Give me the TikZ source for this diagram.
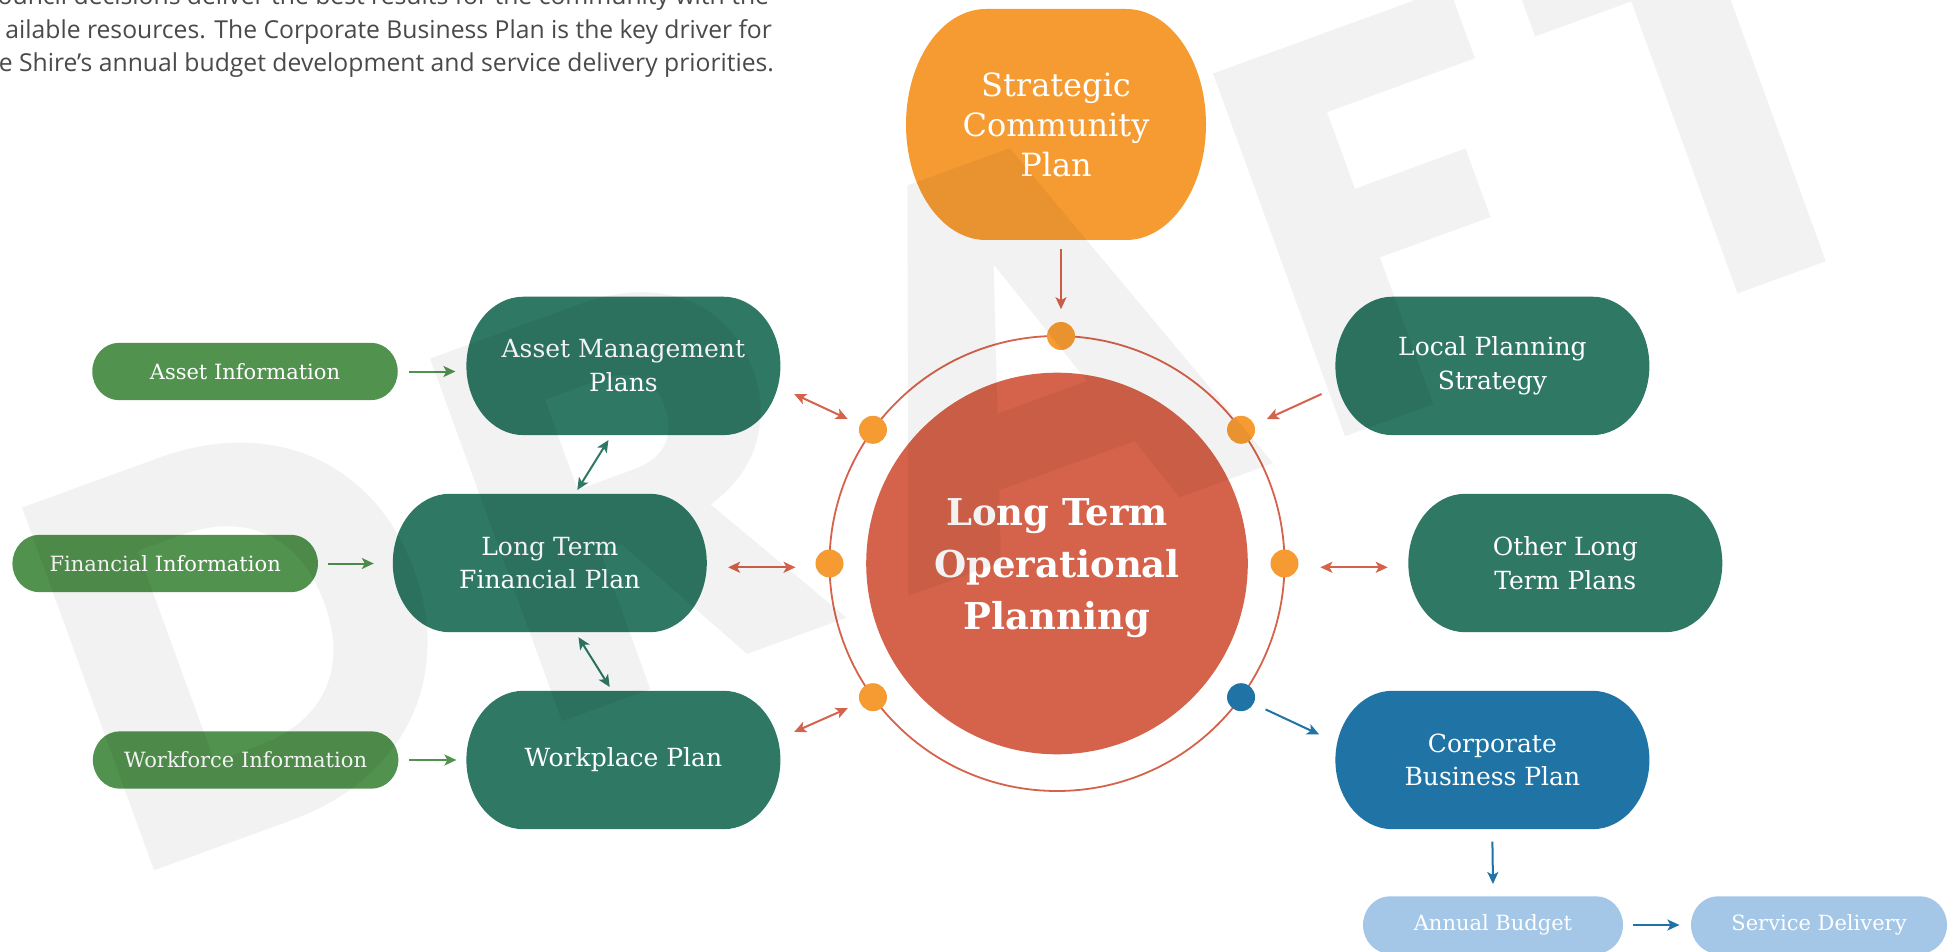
\documentclass[tikz,border=0pt]{standalone}
\usepackage{fontspec}
\setmainfont{DejaVu Serif}
\newfontfamily\parafont{Open Sans}
\newfontfamily\wmfont{Poppins}
\usetikzlibrary{arrows.meta,calc}

\definecolor{dkgreen}{HTML}{2E7864}
\definecolor{ltgreen}{HTML}{52924F}
\definecolor{cbblue}{HTML}{1F74A5}
\definecolor{paleblue}{HTML}{A4C6E7}
\definecolor{scporange}{HTML}{F59B32}
\definecolor{coral}{HTML}{D5624A}
\definecolor{paragrey}{HTML}{4A4A4A}

\pgfdeclarelayer{background}
\pgfsetlayers{background,main}

% Fill a box with elliptical ends behind a named node:
% #1 node, #2 corner x radius, #3 corner y radius, #4 colour
\newcommand\blobfill[4]{%
  \fill[#4] let \p1=(#1.north west), \p2=(#1.south east) in
    ({\x1+#2pt},\y1) -- ({\x2-#2pt},\y1)
    .. controls ({\x2-#2pt+0.5523*#2pt},\y1) and (\x2,{\y1-#3pt+0.5523*#3pt}) .. (\x2,{\y1-#3pt})
    -- (\x2,{\y2+#3pt})
    .. controls (\x2,{\y2+#3pt-0.5523*#3pt}) and ({\x2-#2pt+0.5523*#2pt},\y2) .. ({\x2-#2pt},\y2)
    -- ({\x1+#2pt},\y2)
    .. controls ({\x1+#2pt-0.5523*#2pt},\y2) and (\x1,{\y2+#3pt-0.5523*#3pt}) .. (\x1,{\y2+#3pt})
    -- (\x1,{\y1-#3pt})
    .. controls (\x1,{\y1-#3pt+0.5523*#3pt}) and ({\x1+#2pt-0.5523*#2pt},\y1) .. ({\x1+#2pt},\y1)
    -- cycle;}

\begin{document}
\begin{tikzpicture}[x=1pt,y=-1pt,
  >={Stealth[length=12pt,width=11pt,inset=3pt]},
  every node/.style={inner sep=0pt, outer sep=0pt},
  bigbox/.style={minimum width=314pt, minimum height=138.4pt, text=white, align=center,
    font=\fontsize{25}{33.7}\selectfont},
  infobox/.style={minimum width=305.5pt, minimum height=57.4pt, text=white, align=center,
    font=\fontsize{21}{26}\selectfont},
  para/.style={anchor=base east, text=paragrey, font=\parafont\fontsize{24.7}{33}\selectfont},
  ringdot/.style={circle, minimum size=28pt, fill=scporange},
  conn/.style={line width=2pt},
  garrow/.style={conn, draw=ltgreen, ->},
  tarrow/.style={conn, draw=dkgreen, <->},
  carrow/.style={conn, draw=coral, ->},
  cdarrow/.style={conn, draw=coral, <->},
  barrow/.style={conn, draw=cbblue, ->},
]
\useasboundingbox (0,0) rectangle (1955,952);
\begin{pgfonlayer}{background}
  \fill[white] (0,0) rectangle (1955,952);
\end{pgfonlayer}

% introductory paragraph (runs off the left edge)
\node[para] (p1) at (769,5)    {ouncil decisions deliver the best results for the community with the};
\node[para] (p2) at (772,38.3) {ailable resources. The Corporate Business Plan is the key driver for};
\node[para] (p3) at (774,71.7) {e Shire’s annual budget development and service delivery priorities.};

% strategic community plan
\node[minimum width=300pt, minimum height=231pt, text=white, align=center,
      font=\fontsize{32}{40}\selectfont] (scp) at (1056,124.5) {Strategic\\Community\\Plan};

% left hand plans
\node[bigbox] (amp)  at (623.4,365.9) {Asset Management\\Plans};
\node[bigbox] (ltfp) at (549.8,563)   {Long Term\\Financial Plan};
\node[bigbox] (wpp)  at (623.4,760)   {Workplace Plan};

% right hand plans
\node[bigbox] (lps)  at (1492.4,365.9) {Local Planning\\Strategy};
\node[bigbox] (oltp) at (1565.3,563)   {Other Long\\Term Plans};
\node[bigbox] (cbp)  at (1492.4,760)   {Corporate\\Business Plan};

% information inputs
\node[infobox] (ai) at (245,371.5)   {Asset Information};
\node[infobox] (fi) at (165.2,563.5) {Financial Information};
\node[infobox] (wi) at (245.6,760)   {Workforce Information};

% budget and delivery
\node[infobox, minimum width=260pt] (ab) at (1493,925) {Annual Budget};
\node[infobox, minimum width=256pt] (sd) at (1819,925) {Service Delivery};

\begin{pgfonlayer}{background}
  \blobfill{scp}{80}{115.5}{scporange}
  \blobfill{amp}{57}{69.2}{dkgreen}
  \blobfill{ltfp}{57}{69.2}{dkgreen}
  \blobfill{wpp}{57}{69.2}{dkgreen}
  \blobfill{lps}{57}{69.2}{dkgreen}
  \blobfill{oltp}{57}{69.2}{dkgreen}
  \blobfill{cbp}{57}{69.2}{cbblue}
  \blobfill{ai}{27}{28.7}{ltgreen}
  \blobfill{fi}{27}{28.7}{ltgreen}
  \blobfill{wi}{27}{28.7}{ltgreen}
  \blobfill{ab}{27}{28.7}{paleblue}
  \blobfill{sd}{27}{28.7}{paleblue}
\end{pgfonlayer}

% central hub
\node[circle, minimum size=455pt, draw=coral, line width=1.8pt] (ring) at (1057,563.5) {};
\node[circle, minimum size=381.6pt, fill=coral] (ltop) at (1057,563.5) {};
\node[text=white, align=center, font=\bfseries\fontsize{37}{52}\selectfont]
      (ltoptext) at ($(ltop)+(0,5)$) {Long Term\\Operational\\Planning};

\node[ringdot] (d90)  at (1061,336)      {};
\node[ringdot] (d36)  at (1241.05,429.8) {};
\node[ringdot] (d0)   at (1284.5,563.5)  {};
\node[ringdot, fill=cbblue] (dm36) at (1241.05,697.2) {};
\node[ringdot] (d144) at (872.95,429.8)  {};
\node[ringdot] (d180) at (829.5,563.5)   {};
\node[ringdot] (d216) at (872.95,697.2)  {};

% connectors
\draw[garrow] ($(ai.east)+(11,0)$) -- ($(amp.west)+(-11,5.6)$);
\draw[garrow] ($(fi.east)+(10,0)$) -- ($(ltfp.west)+(-19,0.5)$);
\draw[garrow] ($(wi.east)+(11,0)$) -- ($(wpp.west)+(-10,0)$);

\draw[tarrow] ($(amp.south)+(-15,5)$) -- ($(ltfp.north)+(27.5,-3.8)$);
\draw[tarrow] ($(ltfp.south)+(28.7,5)$) -- ($(wpp.north)+(-13.7,-3.8)$);

\draw[carrow] ($(scp.south)+(5,9.4)$) -- ($(d90)+(0,-26.8)$);
\draw[cdarrow] ($(amp.east)+(13.8,28.1)$) -- ($(d144)+(-25.2,-10.8)$);
\draw[cdarrow] ($(ltfp.east)+(21.3,4.3)$) -- ($(d180)+(-34,3.8)$);
\draw[cdarrow] ($(wpp.east)+(13.8,-28.1)$) -- ($(d216)+(-25.2,11)$);
\draw[carrow] ($(lps.west)+(-13.8,28.1)$) -- ($(d36)+(25.8,-10.8)$);
\draw[cdarrow] ($(d0)+(35.9,3.8)$) -- ($(oltp.west)+(-20.6,4.3)$);

\draw[barrow] ($(dm36)+(24.5,12.2)$) -- ($(cbp.west)+(-16.3,-25.6)$);
\draw[barrow] ($(cbp.south)+(0,12.4)$) -- ($(ab.north)+(0,-12.3)$);
\draw[barrow] ($(ab.east)+(10.3,0)$) -- ($(sd.west)+(-11.6,0)$);

% watermark
\node[opacity=0.05, rotate=20, anchor=base west,
      font=\wmfont\bfseries\fontsize{550}{550}\selectfont] (wm) at (122,882.6)
      {D\kern35pt R\kern35pt A\kern35pt F\kern35pt T};
\end{tikzpicture}
\end{document}
